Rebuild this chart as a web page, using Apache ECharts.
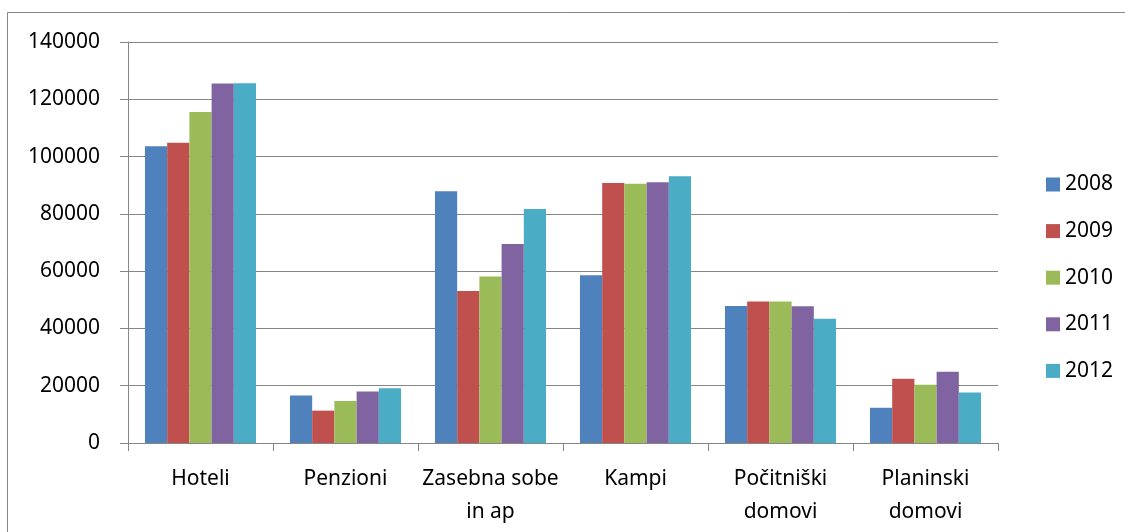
<!DOCTYPE html>
<html>
<head>
<meta charset="utf-8">
<script src="https://cdn.jsdelivr.net/npm/echarts@6/dist/echarts.min.js"></script>
<style>
  html, body { margin: 0; padding: 0; background: #fff; }
  #chart { width: 1125px; height: 532px; }
</style>
</head>
<body>
<div id="chart"></div>
<script>
  // kategorije nastanitev
  const categories = ['Hoteli', 'Penzioni', 'Zasebna sobe\nin ap', 'Kampi', 'Počitniški\ndomovi', 'Planinski\ndomovi']
  const years = ['2008', '2009', '2010', '2011', '2012']
  const v2008 = [103600, 16600, 87900, 58600, 47800, 12300]
  const v2009 = [104800, 11300, 53100, 90800, 49400, 22400]
  const v2010 = [115600, 14700, 58100, 90500, 49400, 20300]
  const v2011 = [125500, 18000, 69500, 91000, 47700, 24900]
  const v2012 = [125600, 19100, 81700, 93100, 43400, 17600]
  const yTicks = [0, 20000, 40000, 60000, 80000, 100000, 120000, 140000]

  const colors = ['#4F81BD', '#C0504D', '#9BBB59', '#8064A2', '#4BACC6']
  const values = [v2008, v2009, v2010, v2011, v2012]
  const font = 'Noto Sans'
  const gray = '#868686'

  let myChart = echarts.init(document.getElementById('chart'))
  myChart.setOption({
    animation: false,
    color: colors,
    graphic: [
      {
        type: 'rect',
        shape: { x: 7.5, y: 12.5, width: 1200, height: 600 },
        style: { fill: 'none', stroke: gray, lineWidth: 1 }
      }
    ],
    grid: {
      left: 128,
      right: 127,
      top: 42,
      bottom: 89
    },
    legend: {
      orient: 'vertical',
      left: 1041,
      top: 169,
      itemWidth: 14,
      itemHeight: 14,
      itemGap: 25.6,
      icon: 'rect',
      data: years,
      textStyle: { fontFamily: font, fontSize: 21, color: '#000', lineHeight: 21 }
    },
    xAxis: {
      type: 'category',
      data: categories,
      axisLine: { show: true, lineStyle: { color: gray, width: 1 } },
      axisTick: { show: true, length: 8, lineStyle: { color: gray } },
      axisLabel: {
        interval: 0,
        margin: 20,
        fontFamily: font,
        fontSize: 21,
        lineHeight: 33,
        color: '#000'
      }
    },
    yAxis: {
      type: 'value',
      min: yTicks[0],
      max: yTicks[yTicks.length - 1],
      interval: yTicks[1] - yTicks[0],
      axisLine: { show: true, lineStyle: { color: gray, width: 1 } },
      axisTick: { show: true, length: 8, lineStyle: { color: gray } },
      splitLine: { show: true, lineStyle: { color: gray, width: 1 } },
      axisLabel: {
        margin: 28,
        fontFamily: font,
        fontSize: 21,
        color: '#000',
        formatter: function (v) { return String(v) }
      }
    },
    series: years.map(function (y, i) {
      return {
        name: y,
        type: 'bar',
        data: values[i],
        barGap: '0%',
        barCategoryGap: '23.4%',
        itemStyle: { color: colors[i] }
      }
    })
  })
</script>
</body>
</html>
